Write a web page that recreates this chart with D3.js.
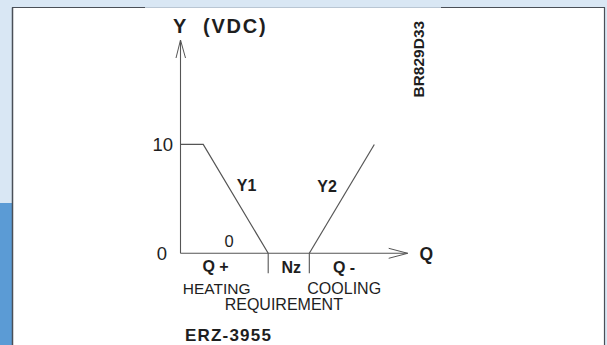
<!DOCTYPE html>
<html>
<head>
<meta charset="utf-8">
<script src="https://cdn.jsdelivr.net/npm/d3@7"></script>
<style>
  html, body { margin: 0; padding: 0; background: #d9e7f4; }
  svg { display: block; }
  text { font-family: "Liberation Sans", Arial, sans-serif; fill: #1e1e1e; }
</style>
</head>
<body>
<svg id="chart" width="607" height="345"></svg>
<script>
// curve data (Q in % of span, Y in VDC)
const y1Q = [0, 10, 38.6];
const y1V = [10, 10, 0];
const y2Q = [56.7, 85.3];
const y2V = [0, 10];
const yTicks = [0, 10];
const nzBounds = [38.6, 56.7];

const svg = d3.select("#chart");

// page frame
svg.append("rect").attr("x", 0).attr("y", 0).attr("width", 607).attr("height", 345).attr("fill", "#d9e7f4");
svg.append("rect").attr("x", 0).attr("y", 203).attr("width", 12).attr("height", 142).attr("fill", "#5b9bd5");
svg.append("rect").attr("x", 12.5).attr("y", 7.5).attr("width", 592).attr("height", 345).attr("fill", "#fff");
svg.append("line").attr("x1", 12.5).attr("y1", 7.5).attr("x2", 12.5).attr("y2", 345).attr("stroke", "#4a4f57").attr("stroke-width", 1.5);
svg.append("line").attr("x1", 604.5).attr("y1", 7.5).attr("x2", 604.5).attr("y2", 345).attr("stroke", "#4a4f57").attr("stroke-width", 1.2);
svg.append("line").attr("x1", 12).attr("y1", 7.5).attr("x2", 145).attr("y2", 7.5).attr("stroke", "#4a4f57").attr("stroke-width", 1.2);
svg.append("line").attr("x1", 145).attr("y1", 7.5).attr("x2", 441).attr("y2", 7.5).attr("stroke", "#b9c6d3").attr("stroke-width", 1);
svg.append("line").attr("x1", 441).attr("y1", 7.5).attr("x2", 605).attr("y2", 7.5).attr("stroke", "#4a4f57").attr("stroke-width", 1.2);

// scales
const x = d3.scaleLinear().domain([0, 100]).range([180.5, 407.7]);
const y = d3.scaleLinear().domain([0, 19.6]).range([253.3, 40]);

const ink = "#555";

// axes
svg.append("line")
  .attr("x1", x(0)).attr("y1", y(0)).attr("x2", x(0)).attr("y2", y(19.6))
  .attr("stroke", ink).attr("stroke-width", 1.1);
svg.append("path")
  .attr("d", `M${x(0) - 4.5},${y(19.6) + 18} L${x(0)},${y(19.6)} L${x(0) + 5},${y(19.6) + 18}`)
  .attr("fill", "none").attr("stroke", ink).attr("stroke-width", 1);

svg.append("line")
  .attr("x1", x(0)).attr("y1", y(0)).attr("x2", x(100)).attr("y2", y(0))
  .attr("stroke", ink).attr("stroke-width", 1.1);
svg.append("path")
  .attr("d", `M${x(100) - 19},${y(0) - 5} L${x(100)},${y(0)} L${x(100) - 19},${y(0) + 5}`)
  .attr("fill", "none").attr("stroke", ink).attr("stroke-width", 1);

// y tick labels
svg.selectAll("text.ytick")
  .data(yTicks)
  .join("text")
  .attr("class", "ytick")
  .attr("x", d => d === 0 ? 167 : 173)
  .attr("y", d => y(d) + 6.5)
  .attr("text-anchor", "end")
  .attr("font-size", 18.5)
  .text(d => d);

// Nz boundary ticks
svg.selectAll("line.nz")
  .data(nzBounds)
  .join("line")
  .attr("class", "nz")
  .attr("x1", d => x(d)).attr("x2", d => x(d))
  .attr("y1", y(0)).attr("y2", y(0) + 20)
  .attr("stroke", ink).attr("stroke-width", 1.1);

// curves
const line = d3.line().x(d => x(d[0])).y(d => y(d[1]));
svg.append("path")
  .attr("d", line(d3.zip(y1Q, y1V)))
  .attr("fill", "none").attr("stroke", ink).attr("stroke-width", 1.2);
svg.append("path")
  .attr("d", line(d3.zip(y2Q, y2V)))
  .attr("fill", "none").attr("stroke", ink).attr("stroke-width", 1.2);

// labels
function label(txt, cx, by, size, weight, anchor, spacing) {
  return svg.append("text")
    .attr("x", cx).attr("y", by)
    .attr("text-anchor", anchor || "middle")
    .attr("font-size", size)
    .attr("font-weight", weight || "normal")
    .attr("letter-spacing", spacing || 0)
    .text(txt);
}

label("Y", 173, 32.7, 20, "bold", "start");
label("(VDC)", 203, 32.7, 20, "bold", "start", 1.8);
label("Y1", 246.5, 191, 16, "bold");
label("Y2", 327, 191.7, 16, "bold");
label("0", 229.2, 246.5, 16.5);
label("Q", 426.3, 260, 17.5, "bold");
label("Q +", 215.5, 272.3, 16, "bold");
label("Nz", 291.3, 273.3, 16, "bold");
label("Q -", 344, 273.3, 16, "bold");
label("HEATING", 216.7, 294.3, 15.5);
label("COOLING", 344.2, 294.3, 16);
label("REQUIREMENT", 283.8, 310, 16);
label("ERZ-3955", 185, 341, 17, "bold", "start", 1.2);

svg.append("text")
  .attr("transform", "translate(423.7,59.2) rotate(-90)")
  .attr("text-anchor", "middle")
  .attr("font-size", 15.5)
  .attr("font-weight", "bold")
  .text("BR829D33");
</script>
</body>
</html>
